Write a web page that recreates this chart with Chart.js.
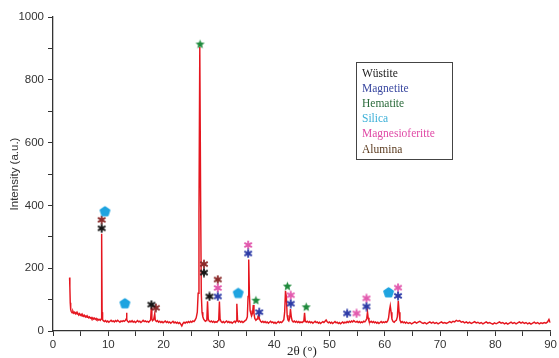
<!DOCTYPE html>
<html>
<head>
<meta charset="utf-8">
<script src="https://cdn.jsdelivr.net/npm/chart.js@4.4.1/dist/chart.umd.min.js"></script>
<style>
html,body{margin:0;padding:0;background:#fff;}
canvas{display:block;}
</style>
</head>
<body>
<canvas id="c" width="559" height="358"></canvas>
<script>
// ---- Data: XRD pattern (2θ in degrees, intensity in a.u.) ----
const twoTheta = [
  3.0, 3.05, 3.12, 3.2, 3.3, 3.45, 3.6, 3.75, 3.9, 4.05,
  4.2, 4.35, 4.5, 4.65, 4.8, 4.95, 5.1, 5.25, 5.4, 5.55,
  5.7, 5.85, 6.0, 6.15, 6.3, 6.45, 6.6, 6.75, 6.9, 7.05,
  7.2, 7.35, 7.5, 7.65, 7.8, 7.95, 8.1, 8.25, 8.4, 8.55,
  8.7, 8.8, 8.88, 8.97, 9.1, 9.3, 9.5, 9.7, 9.9, 10.1,
  10.3, 10.5, 10.7, 10.9, 11.1, 11.3, 11.5, 11.7, 11.9, 12.1,
  12.3, 12.5, 12.7, 12.9, 13.1, 13.22, 13.3, 13.38, 13.5, 13.7,
  13.9, 14.1, 14.3, 14.5, 14.7, 14.9, 15.1, 15.3, 15.5, 15.7,
  15.9, 16.1, 16.3, 16.5, 16.7, 16.9, 17.1, 17.3, 17.5, 17.65,
  17.78, 17.88, 18.0, 18.2, 18.4, 18.5, 18.7, 18.9, 19.1, 19.3,
  19.5, 19.7, 19.9, 20.1, 20.3, 20.5, 20.7, 20.9, 21.1, 21.3,
  21.5, 21.7, 21.9, 22.1, 22.3, 22.5, 22.7, 22.9, 23.1, 23.3,
  23.5, 23.7, 23.9, 24.1, 24.3, 24.5, 24.7, 24.9, 25.1, 25.3,
  25.5, 25.7, 25.9, 26.1, 26.25, 26.4, 26.55, 26.7, 26.82, 26.95,
  27.1, 27.25, 27.4, 27.55, 27.7, 27.82, 27.95, 28.08, 28.25, 28.45,
  28.65, 28.85, 29.05, 29.25, 29.45, 29.65, 29.85, 29.98, 30.1, 30.22,
  30.4, 30.6, 30.8, 31.0, 31.2, 31.4, 31.6, 31.8, 32.0, 32.2,
  32.4, 32.6, 32.8, 33.0, 33.12, 33.25, 33.38, 33.55, 33.75, 33.95,
  34.15, 34.35, 34.55, 34.75, 34.95, 35.15, 35.28, 35.4, 35.52, 35.65,
  35.8, 35.95, 36.1, 36.22, 36.35, 36.5, 36.7, 36.9, 37.05, 37.2,
  37.35, 37.55, 37.75, 37.95, 38.15, 38.35, 38.55, 38.75, 38.95, 39.15,
  39.35, 39.55, 39.75, 39.95, 40.15, 40.35, 40.55, 40.75, 40.95, 41.15,
  41.35, 41.55, 41.75, 41.9, 42.05, 42.2, 42.35, 42.5, 42.65, 42.8,
  42.95, 43.1, 43.25, 43.45, 43.65, 43.85, 44.05, 44.25, 44.45, 44.65,
  44.85, 45.05, 45.25, 45.38, 45.5, 45.62, 45.8, 46.0, 46.2, 46.4,
  46.6, 46.8, 47.0, 47.2, 47.4, 47.6, 47.8, 48.0, 48.2, 48.4,
  48.6, 48.8, 49.0, 49.2, 49.4, 49.6, 49.8, 50.0, 50.2, 50.4,
  50.6, 50.8, 51.0, 51.2, 51.4, 51.6, 51.8, 52.0, 52.2, 52.4,
  52.6, 52.8, 53.0, 53.2, 53.4, 53.6, 53.8, 54.0, 54.2, 54.4,
  54.6, 54.8, 55.0, 55.2, 55.4, 55.6, 55.8, 56.0, 56.2, 56.4,
  56.6, 56.75, 56.88, 57.0, 57.15, 57.35, 57.55, 57.75, 57.95, 58.15,
  58.35, 58.55, 58.75, 58.95, 59.15, 59.35, 59.55, 59.75, 59.95, 60.15,
  60.35, 60.55, 60.7, 60.85, 61.0, 61.15, 61.3, 61.5, 61.7, 61.9,
  62.1, 62.28, 62.45, 62.6, 62.75, 62.95, 63.15, 63.35, 63.55, 63.75,
  63.95, 64.25, 64.55, 64.85, 65.15, 65.45, 65.75, 66.05, 66.35, 66.65,
  66.95, 67.25, 67.55, 67.85, 68.15, 68.45, 68.75, 69.05, 69.35, 69.65,
  69.95, 70.25, 70.55, 70.85, 71.15, 71.45, 71.75, 72.05, 72.35, 72.65,
  72.95, 73.25, 73.55, 73.85, 74.15, 74.45, 74.75, 75.05, 75.35, 75.65,
  75.95, 76.25, 76.55, 76.85, 77.15, 77.45, 77.75, 78.05, 78.35, 78.65,
  78.95, 79.25, 79.55, 79.85, 80.15, 80.45, 80.75, 81.05, 81.35, 81.65,
  81.95, 82.25, 82.55, 82.85, 83.15, 83.45, 83.75, 84.05, 84.35, 84.65,
  84.95, 85.25, 85.55, 85.85, 86.15, 86.45, 86.75, 87.05, 87.35, 87.65,
  87.95, 88.25, 88.55, 88.85, 89.15, 89.45, 89.7, 89.85, 89.97
];
const intensity = [
  170, 140, 90, 68, 62, 58, 63, 57, 60, 55,
  59, 54, 56, 51, 55, 50, 53, 48, 51, 47,
  50, 45, 48, 44, 46, 42, 45, 41, 43, 39,
  42, 38, 41, 37, 40, 36, 38, 35, 37, 34,
  38, 310, 60, 36, 33, 30, 33, 29, 32, 28,
  31, 34, 30, 32, 29, 33, 30, 34, 31, 28,
  32, 30, 33, 31, 34, 38, 58, 36, 31, 28,
  32, 29, 33, 28, 31, 27, 30, 33, 29, 31,
  27, 30, 34, 30, 32, 29, 31, 28, 32, 35,
  75, 40, 33, 36, 55, 34, 30, 33, 28, 31,
  27, 30, 26, 29, 32, 27, 30, 26, 29, 25,
  28, 31, 26, 29, 25, 28, 24, 27, 22, 16,
  24, 28, 25, 29, 26, 30, 27, 31, 28, 32,
  30, 35, 42, 60, 120, 380, 905, 420, 120, 60,
  45, 38, 34, 31, 33, 36, 95, 38, 32, 29,
  32, 28, 31, 27, 30, 28, 33, 38, 94, 38,
  30, 27, 30, 26, 29, 32, 27, 30, 26, 29,
  25, 28, 31, 27, 32, 87, 35, 29, 32, 28,
  31, 27, 30, 33, 36, 45, 110, 228, 120, 65,
  55, 50, 58, 83, 55, 40, 34, 38, 45, 52,
  38, 31, 28, 31, 27, 30, 26, 29, 25, 28,
  31, 27, 29, 25, 28, 24, 27, 30, 26, 29,
  27, 31, 36, 60, 128, 110, 50, 35, 32, 40,
  70, 45, 33, 29, 32, 28, 31, 27, 30, 26,
  29, 27, 30, 34, 58, 33, 28, 31, 27, 30,
  26, 29, 25, 28, 31, 27, 29, 25, 28, 24,
  27, 30, 27, 31, 35, 29, 26, 29, 25, 28,
  24, 27, 30, 26, 28, 24, 27, 23, 26, 29,
  25, 28, 26, 30, 27, 31, 28, 32, 29, 33,
  30, 28, 31, 27, 30, 26, 29, 27, 31, 29,
  34, 40, 61, 42, 32, 28, 31, 27, 30, 26,
  29, 25, 28, 24, 27, 30, 26, 29, 27, 30,
  28, 33, 42, 65, 80, 60, 38, 30, 28, 32,
  34, 45, 96, 60, 35, 27, 30, 26, 29, 25,
  28, 24, 27, 23, 26, 29, 25, 28, 31, 27,
  24, 27, 23, 26, 29, 25, 28, 24, 27, 23,
  26, 29, 25, 27, 24, 27, 30, 27, 31, 29,
  34, 31, 33, 28, 30, 26, 29, 25, 28, 24,
  27, 30, 26, 28, 24, 27, 23, 26, 29, 25,
  27, 24, 22, 26, 23, 26, 29, 25, 27, 23,
  26, 22, 25, 28, 24, 27, 23, 26, 29, 25,
  28, 24, 27, 23, 26, 22, 25, 28, 24, 27,
  23, 26, 24, 27, 25, 29, 37, 30, 27
];

// ---- Phase markers: [2θ, intensity position] ----
const phaseNames = ['Wüstite', 'Magnetite', 'Hematite', 'Silica', 'Magnesioferitte', 'Alumina'];
const wustitePeaks = [[8.8, 327], [17.8, 84], [27.3, 186], [28.3, 110]];
const magnetitePeaks = [[29.8, 110], [35.3, 247], [37.3, 60], [43.0, 87], [53.2, 56], [56.7, 78], [62.4, 112]];
const hematitePeaks = [[26.6, 914], [36.7, 98], [42.4, 143], [45.8, 77]];
const silicaPeaks = [[9.4, 381], [13.0, 88], [33.5, 121], [60.7, 123]];
const magnesioferittePeaks = [[29.8, 137], [35.3, 274], [43.0, 114], [54.9, 56], [56.7, 104], [62.4, 138]];
const aluminaPeaks = [[8.8, 354], [18.6, 74], [27.3, 213], [29.8, 164]];

// ---- Axis ticks ----
const xTickLabels = [0, 10, 20, 30, 40, 50, 60, 70, 80, 90];
const yTickLabels = [0, 200, 400, 600, 800, 1000];

// ---- Styles ----
const markerColors = ['#151515', '#2c3aa6', '#1f8a3c', '#1fa4e0', '#e25aae', '#8a2a2a'];
const legendColors = ['#202020', '#3a48a0', '#2a6a3a', '#3cb0d8', '#e04aa6', '#5a3a1e'];

function makeCanvas(size) {
  const c = document.createElement('canvas');
  c.width = size; c.height = size;
  return c;
}
function asterisk(color) {
  const c = makeCanvas(10), g = c.getContext('2d');
  g.strokeStyle = color; g.lineWidth = 1.8; g.lineCap = 'round';
  const r = 3.7;
  [90, 30, 150].forEach(a => {
    const t = a * Math.PI / 180;
    g.beginPath();
    g.moveTo(5 - r * Math.cos(t), 5 - r * Math.sin(t));
    g.lineTo(5 + r * Math.cos(t), 5 + r * Math.sin(t));
    g.stroke();
  });
  return c;
}
function star5(color) {
  const c = makeCanvas(11), g = c.getContext('2d');
  g.fillStyle = color;
  g.beginPath();
  for (let i = 0; i < 10; i++) {
    const r = i % 2 === 0 ? 4.8 : 2.1;
    const t = -Math.PI / 2 + i * Math.PI / 5;
    const px = 5.5 + r * Math.cos(t), py = 5.8 + r * Math.sin(t);
    i === 0 ? g.moveTo(px, py) : g.lineTo(px, py);
  }
  g.closePath(); g.fill();
  return c;
}
function pentagon(color) {
  const c = makeCanvas(13), g = c.getContext('2d');
  g.fillStyle = color; g.strokeStyle = color; g.lineWidth = 2; g.lineJoin = 'round';
  g.beginPath();
  for (let i = 0; i < 5; i++) {
    const t = -Math.PI / 2 + i * 2 * Math.PI / 5;
    const px = 6.5 + 4.6 * Math.cos(t), py = 6.8 + 4.6 * Math.sin(t);
    i === 0 ? g.moveTo(px, py) : g.lineTo(px, py);
  }
  g.closePath(); g.fill(); g.stroke();
  return c;
}

const markerStyles = [
  asterisk(markerColors[0]), asterisk(markerColors[1]), star5(markerColors[2]),
  pentagon(markerColors[3]), asterisk(markerColors[4]), asterisk(markerColors[5])
];
const markerSets = [wustitePeaks, magnetitePeaks, hematitePeaks, silicaPeaks, magnesioferittePeaks, aluminaPeaks];

const patternData = twoTheta.map((x, i) => ({ x: x, y: intensity[i] }));

const datasets = [{
  label: 'XRD',
  data: patternData,
  showLine: true,
  borderColor: '#e5161f',
  borderWidth: 1.45,
  pointRadius: 0,
  tension: 0,
  order: 10
}];
markerSets.forEach((set, i) => {
  datasets.push({
    label: phaseNames[i],
    data: set.map(p => ({ x: p[0], y: p[1] })),
    showLine: false,
    pointStyle: markerStyles[i],
    pointRadius: 4,
    order: 1
  });
});

const legendBox = {
  id: 'legendBox',
  afterDraw(chart) {
    const ctx = chart.ctx;
    ctx.save();
    ctx.fillStyle = '#fff';
    ctx.fillRect(356.5, 62.5, 96, 97);
    ctx.strokeStyle = '#444';
    ctx.lineWidth = 1;
    ctx.strokeRect(356.5, 62.5, 96, 97);
    ctx.font = '11.5px "Liberation Serif", "DejaVu Serif", serif';
    ctx.textBaseline = 'middle';
    ctx.textAlign = 'left';
    phaseNames.forEach((n, i) => {
      ctx.fillStyle = legendColors[i];
      ctx.fillText(n, 362, 73.5 + i * 15.2);
    });
    ctx.restore();
  }
};

const tickFont = { family: '"Liberation Sans", Arial, sans-serif', size: 11.5 };

new Chart(document.getElementById('c'), {
  type: 'scatter',
  data: { datasets },
  options: {
    responsive: false,
    animation: false,
    layout: { padding: { top: 17, right: 3, left: 0, bottom: 0 } },
    plugins: { legend: { display: false }, tooltip: { enabled: false } },
    scales: {
      x: {
        type: 'linear', min: 0, max: 90,
        afterFit: s => { s.height = 27; },
        ticks: {
          stepSize: 5, padding: 2, color: '#333', font: tickFont, maxRotation: 0,
          callback: v => (xTickLabels.includes(v) ? String(v) : '')
        },
        grid: { drawOnChartArea: false, drawTicks: true, tickLength: 5, color: '#333', lineWidth: 1 },
        border: { display: true, color: '#333', width: 1.3 },
        title: {
          display: true, text: '2θ (°)', color: '#222',
          font: { family: '"Liberation Serif", "DejaVu Serif", serif', size: 13, lineHeight: 1 },
          padding: { top: 0, bottom: 0 }
        }
      },
      y: {
        type: 'linear', min: 0, max: 1000,
        afterFit: s => { s.width = 53; },
        ticks: {
          stepSize: 100, padding: 4, color: '#333', font: tickFont,
          callback: v => (yTickLabels.includes(v) ? String(v) : '')
        },
        grid: { drawOnChartArea: false, drawTicks: true, tickLength: 5, color: '#333', lineWidth: 1 },
        border: { display: true, color: '#333', width: 1.3 },
        title: {
          display: true, text: 'Intensity (a.u.)', color: '#333',
          font: { family: '"Liberation Sans", Arial, sans-serif', size: 11.5, lineHeight: 1.2 },
          padding: { top: 8, bottom: 0 }
        }
      }
    }
  },
  plugins: [legendBox]
});
</script>
</body>
</html>
